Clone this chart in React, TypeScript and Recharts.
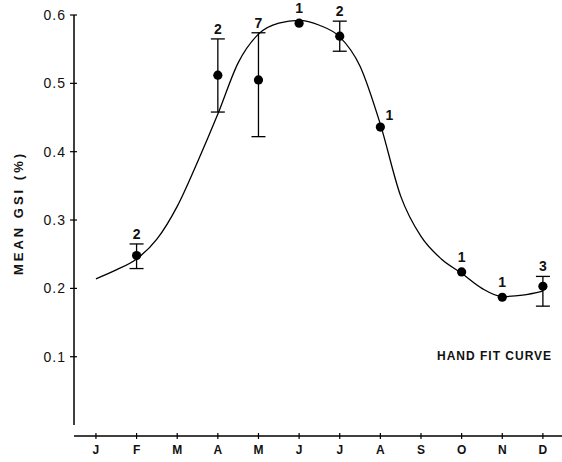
import React from 'react';
import {
  ComposedChart,
  Line,
  Scatter,
  ErrorBar,
  XAxis,
  YAxis,
  ReferenceLine,
  Label
} from 'recharts';

// month ticks along the bottom
const monthNums = [1, 2, 3, 4, 5, 6, 7, 8, 9, 10, 11, 12];
const monthLetters = ['J', 'F', 'M', 'A', 'M', 'J', 'J', 'A', 'S', 'O', 'N', 'D'];
const gsiTicks = [0.1, 0.2, 0.3, 0.4, 0.5, 0.6];

// observed means (with range) and sample size
const obsMonth = [2, 4, 5, 6, 7, 8, 10, 11, 12];
const obsMean = [0.248, 0.512, 0.505, 0.588, 0.569, 0.436, 0.224, 0.187, 0.203];
const obsLow = [0.229, 0.458, 0.422, null, 0.547, null, null, null, 0.174];
const obsHigh = [0.265, 0.565, 0.574, null, 0.591, null, null, null, 0.2175];
const obsN = [2, 2, 7, 1, 2, 1, 1, 1, 3];

// hand fit curve
const curveMonth = [1, 1.5, 2, 2.5, 3, 3.5, 4, 4.5, 5, 5.5, 6, 6.5, 7, 7.5, 8, 8.5, 9, 9.5, 10, 10.5, 11, 11.5, 12];
const curveGsi = [0.214, 0.227, 0.243, 0.272, 0.32, 0.385, 0.455, 0.53, 0.572, 0.588, 0.592, 0.585, 0.568, 0.525, 0.44, 0.335, 0.276, 0.243, 0.222, 0.2, 0.188, 0.19, 0.196];

const curveData = curveMonth.map((m, i) => ({ m, gsi: curveGsi[i] }));

const obsData = obsMonth.map((m, i) => ({
  m,
  gsi: obsMean[i],
  err: obsLow[i] != null && obsHigh[i] != null
    ? [obsMean[i] - (obsLow[i] as number), (obsHigh[i] as number) - obsMean[i]]
    : null
}));

const labelData = obsMonth.map((m, i) => ({
  m,
  gsi: obsHigh[i] != null ? (obsHigh[i] as number) : obsMean[i],
  n: obsN[i],
  hasErr: obsHigh[i] != null
}));

const FONT = '"Liberation Sans", Arial, Helvetica, sans-serif';

const XTick = (props: any) => {
  const { x, y, payload } = props;
  return (
    <g>
      <line x1={x} x2={x} y1={y - 3} y2={y + 3} stroke="#000" strokeWidth={1.2} />
      <text x={x} y={y + 18} textAnchor="middle" fontFamily={FONT} fontWeight="bold" fontSize={12} fill="#111">
        {monthLetters[payload.value - 1]}
      </text>
    </g>
  );
};

const YTick = (props: any) => {
  const { x, y, payload } = props;
  return (
    <g>
      <line x1={x - 4} x2={x + 3} y1={y} y2={y} stroke="#000" strokeWidth={1.2} />
      <text x={x - 8} y={y + 5} textAnchor="end" fontFamily={FONT} fontSize={14} letterSpacing={1} fill="#111">
        {payload.value.toFixed(1)}
      </text>
    </g>
  );
};

const Dot = (props: any) => <circle cx={props.cx} cy={props.cy} r={4.6} fill="#000" />;

const CountLabel = (props: any) => {
  const { cx, cy, payload } = props;
  // August label sits to the right of its point
  const side = payload.m === 8;
  const dx = side ? 9 : 0;
  const dy = side ? -12 : payload.hasErr ? -10 : -15;
  return (
    <text x={cx + dx} y={cy + dy + 5} textAnchor="middle" fontFamily={FONT} fontWeight="bold" fontSize={14} fill="#111">
      {payload.n}
    </text>
  );
};

export default function App() {
  return (
    <div style={{ position: 'absolute', left: 0, top: 0, width: 562, height: 462, background: '#fff' }}>
      <ComposedChart width={562} height={462} margin={{ top: 15, right: 0, left: 0, bottom: 0 }}>
        <XAxis
          type="number"
          dataKey="m"
          domain={[0.46, 12.47]}
          ticks={monthNums}
          height={26}
          axisLine={{ stroke: '#000', strokeWidth: 1.5 }}
          tickLine={false}
          tickSize={0}
          tickMargin={0}
          tick={<XTick />}
          interval={0}
        />
        <YAxis
          type="number"
          dataKey="gsi"
          domain={[-0.016, 0.6]}
          ticks={gsiTicks}
          width={74}
          axisLine={false}
          tickLine={false}
          tickSize={0}
          tickMargin={0}
          tick={<YTick />}
          interval={0}
        >
          <Label
            content={(p: any) => {
              const vb = p.viewBox || { x: 0, y: 15 };
              const cx = vb.x + 18;
              const cy = vb.y + 198;
              return (
                <text
                  x={cx}
                  y={cy}
                  transform={`rotate(-90 ${cx} ${cy})`}
                  textAnchor="middle"
                  dominantBaseline="central"
                  fontFamily={FONT}
                  fontWeight="bold"
                  fontSize={13}
                  letterSpacing={3}
                  fill="#111"
                >
                  MEAN GSI (%)
                </text>
              );
            }}
          />
        </YAxis>
        <ReferenceLine
          segment={[{ x: 0.46, y: 0 }, { x: 0.46, y: 0.6 }]}
          stroke="#000"
          strokeWidth={1.5}
          ifOverflow="visible"
        />
        <Line
          data={curveData}
          dataKey="gsi"
          type="monotone"
          stroke="#000"
          strokeWidth={1.3}
          dot={false}
          activeDot={false}
          isAnimationActive={false}
        />
        <Scatter data={obsData} dataKey="gsi" shape={<Dot />} isAnimationActive={false}>
          <ErrorBar dataKey="err" direction="y" width={7} stroke="#000" strokeWidth={1.3} />
        </Scatter>
        <Scatter data={labelData} dataKey="gsi" shape={<CountLabel />} isAnimationActive={false} />
      </ComposedChart>
      <div
        style={{
          position: 'absolute',
          left: 437,
          top: 349,
          fontFamily: FONT,
          fontWeight: 'bold',
          fontSize: 12,
          letterSpacing: 1,
          color: '#111',
          whiteSpace: 'nowrap'
        }}
      >
        HAND FIT CURVE
      </div>
    </div>
  );
}
